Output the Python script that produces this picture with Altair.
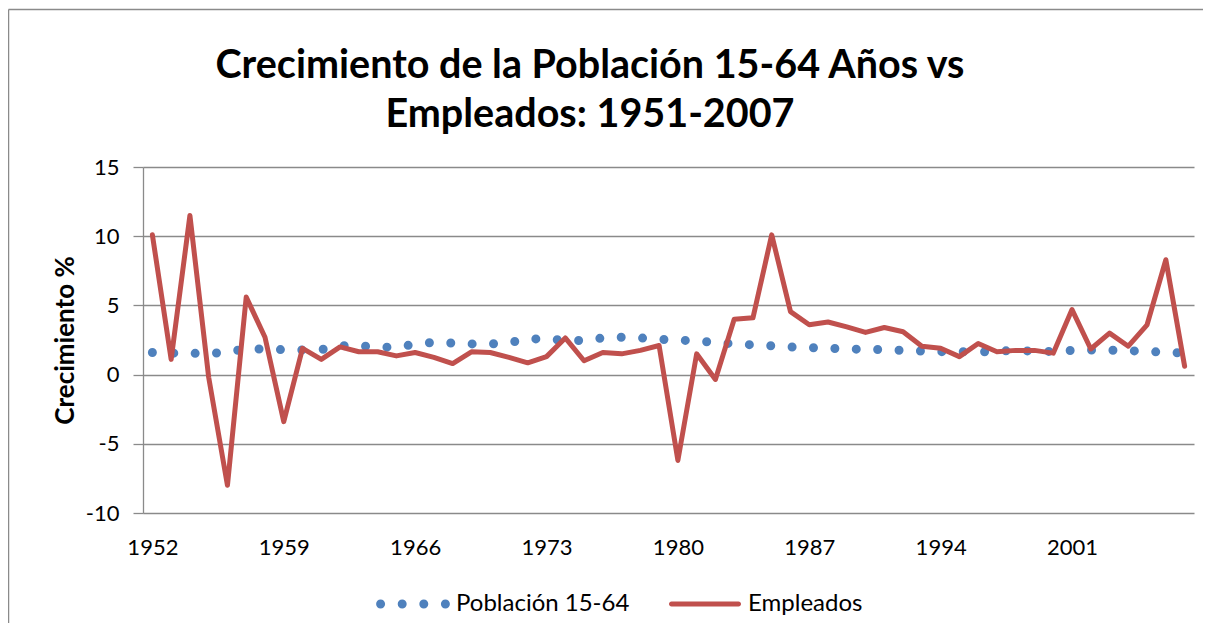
import altair as alt
import pandas as pd

years = list(range(1952, 2008))
poblacion = [1.6, 1.55, 1.55, 1.5, 1.65, 1.85, 1.85, 1.8, 1.78, 1.8,
             2.1, 2.07, 2.0, 1.97, 2.2, 2.33, 2.28, 2.22, 2.21, 2.3,
             2.6, 2.55, 2.5, 2.45, 2.65, 2.7, 2.65, 2.55, 2.5, 2.43,
             2.32, 2.22, 2.15, 2.08, 2.0, 1.95, 1.9, 1.85, 1.83, 1.8,
             1.75, 1.7, 1.66, 1.66, 1.63, 1.7, 1.73, 1.7, 1.67, 1.75,
             1.78, 1.77, 1.73, 1.68, 1.6, 1.57]
empleados = [10.1, 1.1, 11.5, -0.2, -8.0, 5.6, 2.7, -3.4, 1.9, 1.1,
             2.0, 1.65, 1.65, 1.35, 1.6, 1.25, 0.8, 1.65, 1.6, 1.25,
             0.85, 1.3, 2.65, 1.0, 1.6, 1.5, 1.75, 2.1, -6.2, 1.5,
             -0.35, 4.0, 4.1, 10.1, 4.55, 3.6, 3.8, 3.45, 3.05, 3.4,
             3.1, 2.05, 1.9, 1.3, 2.25, 1.65, 1.75, 1.75, 1.55, 4.7,
             1.85, 3.0, 2.05, 3.6, 8.3, 0.6]
series = ["Población 15-64", "Empleados"]
colors = ["#4F81BD", "#C0504D"]
x_ticks = [1952, 1959, 1966, 1973, 1980, 1987, 1994, 2001]
y_ticks = [-10, -5, 0, 5, 10, 15]
title_lines = ["Crecimiento de la Población 15-64 Años vs", "Empleados: 1951-2007"]
y_title = "Crecimiento %"

n = len(years)
df = pd.DataFrame({
    "Año": years * 2,
    "Serie": [series[0]] * n + [series[1]] * n,
    "Valor": poblacion + empleados,
})

FONT = "Lato"
W, H = 1051, 346
GRID = "#8a8a8a"


def circle(cx, r):
    return (f"M {cx - r} 0 A {r} {r} 0 1 0 {cx + r} 0 "
            f"A {r} {r} 0 1 0 {cx - r} 0 Z")


dots_path = " ".join(circle(c, 0.1125) for c in [-0.81, -0.27, 0.27, 0.81])
bar_path = ("M -0.8375 -0.0625 L 0.8375 -0.0625 "
            "A 0.0625 0.0625 0 0 1 0.8375 0.0625 "
            "L -0.8375 0.0625 A 0.0625 0.0625 0 0 1 -0.8375 -0.0625 Z")

x = alt.X("Año:O",
          scale=alt.Scale(type="point", padding=0.5),
          axis=alt.Axis(values=x_ticks, labelAngle=0, ticks=False, tickSize=0,
                        domain=False, grid=False, labelPadding=24,
                        labelFontSize=22, labelFont=FONT, labelColor="black",
                        title=None))
y = alt.Y("Valor:Q",
          scale=alt.Scale(domain=[-10, 15], nice=False, zero=False),
          axis=alt.Axis(values=y_ticks, grid=True, gridColor=GRID, gridWidth=1.3,
                        domainColor=GRID, domainWidth=1.3, tickColor=GRID,
                        tickSize=10, tickWidth=1.3, labelPadding=14,
                        labelExpr="datum.value < 0 ? '-' + abs(datum.value) : '' + datum.value",
                        labelFontSize=22, labelFont=FONT, labelColor="black",
                        title=y_title, titleFont=FONT, titleFontSize=26,
                        titleFontWeight="bold", titleColor="black",
                        titleAngle=270, titleX=-78, titleY=H / 2,
                        titleAlign="center", titleBaseline="middle"))

base = alt.Chart(df)
one = pd.DataFrame({"k": [0]})

frame_left = alt.Chart(one).mark_rule(color=GRID, strokeWidth=1.5).encode(
    x=alt.value(-134.5), y=alt.value(-157.5), y2=alt.value(H + 200))
frame_top = alt.Chart(one).mark_rule(color=GRID, strokeWidth=1.5).encode(
    x=alt.value(-134.5), x2=alt.value(W + 100), y=alt.value(-157.5))

title_df = pd.DataFrame({"linea": title_lines})
t1 = alt.Chart(title_df).transform_filter(alt.datum.linea == title_lines[0]).mark_text(
    font=FONT, fontSize=39.5, fontWeight="bold", color="black", align="center",
    baseline="alphabetic"
).encode(text="linea:N", x=alt.value(447), y=alt.value(-89))
t2 = alt.Chart(title_df).transform_filter(alt.datum.linea == title_lines[1]).mark_text(
    font=FONT, fontSize=39.5, fontWeight="bold", color="black", align="center",
    baseline="alphabetic"
).encode(text="linea:N", x=alt.value(447), y=alt.value(-40))

pob = base.transform_filter(alt.datum.Serie == series[0]).mark_line(
    color=colors[0], strokeWidth=9, strokeDash=[0, 21.4], strokeCap="round"
).encode(x=x, y=y)

emp = base.transform_filter(alt.datum.Serie == series[1]).mark_line(
    color=colors[1], strokeWidth=5, strokeJoin="round", strokeCap="round"
).encode(x=x, y=y)

leg_cfg = dict(title=None, orient="none", legendX=230, legendY=397,
               direction="horizontal", symbolSize=6400, symbolStrokeWidth=0,
               symbolOpacity=1, labelFont=FONT, labelFontSize=24, labelLimit=400,
               labelColor="black", labelOffset=3, columnPadding=35, padding=0)

leg = base.transform_filter("false").mark_point(
    filled=True, size=6400, opacity=1
).encode(
    x=x, y=y,
    color=alt.Color("Serie:N", scale=alt.Scale(domain=series, range=colors),
                    legend=alt.Legend(**leg_cfg)),
    shape=alt.Shape("Serie:N", scale=alt.Scale(domain=series, range=[dots_path, bar_path]),
                    legend=alt.Legend(**leg_cfg)),
)

chart = alt.layer(frame_left, frame_top, t1, t2, pob, emp, leg).properties(
    width=W, height=H,
    padding={"left": 135, "top": 159, "right": 9, "bottom": 110},
    autosize=alt.AutoSizeParams(type="none"),
    background="white",
).configure_view(stroke=None)

chart.save("out.html", embed_options={"renderer": "svg", "actions": False})
